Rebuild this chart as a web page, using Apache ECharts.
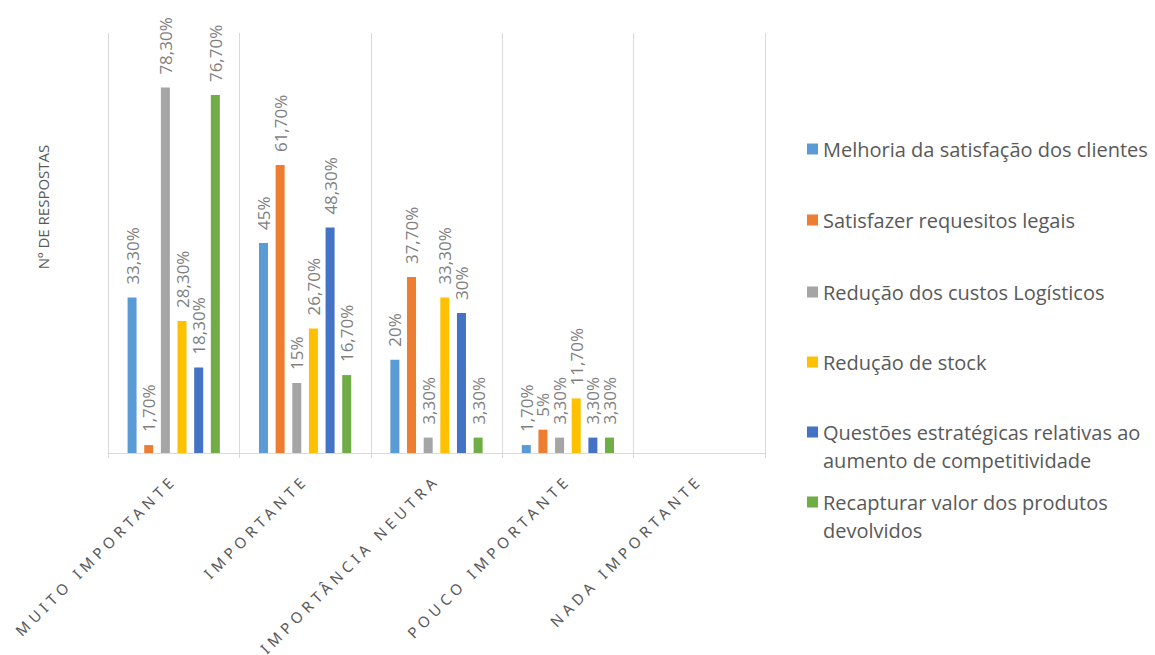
<!DOCTYPE html>
<html>
<head>
<meta charset="utf-8">
<script src="https://cdn.jsdelivr.net/npm/echarts@6/dist/echarts.min.js"></script>
<style>
  html, body { margin: 0; padding: 0; background: #fff; }
  #chart { width: 1155px; height: 655px; }
  /* Excel-style spaced category labels (only the x-axis labels use Noto Sans) */
  #chart text[style*="Noto Sans"] { letter-spacing: 4.6px; }
</style>
</head>
<body>
<div id="chart"></div>
<script>
const categories = ['MUITO IMPORTANTE', 'IMPORTANTE', 'IMPORTÂNCIA NEUTRA', 'POUCO IMPORTANTE', 'NADA IMPORTANTE'];
const seriesNames = [
  'Melhoria da satisfação dos clientes',
  'Satisfazer requesitos legais',
  'Redução dos custos Logísticos',
  'Redução de stock',
  'Questões estratégicas relativas ao aumento de competitividade',
  'Recapturar valor dos produtos devolvidos'
];
const legendLabels = [
  'Melhoria da satisfação dos clientes',
  'Satisfazer requesitos legais',
  'Redução dos custos Logísticos',
  'Redução de stock',
  'Questões estratégicas relativas ao\naumento de competitividade',
  'Recapturar valor dos produtos\ndevolvidos'
];
const melhoria     = [33.3, 45,   20,   1.7,  null];
const satisfazer   = [1.7,  61.7, 37.7, 5,    null];
const custos       = [78.3, 15,   3.3,  3.3,  null];
const stock        = [28.3, 26.7, 33.3, 11.7, null];
const estrategicas = [18.3, 48.3, 30,   3.3,  null];
const recapturar   = [76.7, 16.7, 3.3,  3.3,  null];
const yAxisTitle = 'Nº DE RESPOSTAS';

const seriesValues = [melhoria, satisfazer, custos, stock, estrategicas, recapturar];
const colors = ['#5B9BD5', '#ED7D31', '#A5A5A5', '#FFC000', '#4472C4', '#70AD47'];
const legendTops = [130, 201, 273, 343, 413, 483];

function fmt(v) {
  if (v == null) return '';
  return (Number.isInteger(v) ? String(v) : v.toFixed(2).replace('.', ',')) + '%';
}

const chart = echarts.init(document.getElementById('chart'), null, { renderer: 'svg' });

const series = seriesValues.map((vals, i) => ({
  name: seriesNames[i],
  type: 'bar',
  data: vals,
  barWidth: 9,
  barGap: '85%',
  itemStyle: { color: colors[i] },
  label: {
    show: true,
    position: 'top',
    rotate: 90,
    align: 'left',
    verticalAlign: 'middle',
    distance: 13,
    color: '#7f7f7f',
    fontFamily: 'Open Sans',
    fontSize: 17,
    formatter: p => fmt(p.value)
  },
  emphasis: { disabled: true }
}));

const legends = seriesNames.map((n, i) => {
  const twoLines = legendLabels[i].indexOf('\n') >= 0;
  return {
    data: [n],
    orient: 'vertical',
    left: 802,
    top: legendTops[i],
    // two-line entries: square marker aligned with the first text line
    icon: twoLines ? 'path://M0,0h11v11h-11zM0,39h11' : 'rect',
    itemWidth: 11,
    itemHeight: twoLines ? 39 : 11,
    selectedMode: false,
    formatter: () => legendLabels[i],
    textStyle: {
      color: '#595959',
      fontFamily: 'Open Sans',
      fontSize: 20,
      lineHeight: 28
    }
  };
});

chart.setOption({
  animation: false,
  color: colors,
  grid: { left: 108, right: 390, top: 33, bottom: 202 },
  legend: legends,
  xAxis: {
    type: 'category',
    data: categories,
    boundaryGap: true,
    axisLine: { show: true, lineStyle: { color: '#d9d9d9', width: 1 } },
    axisTick: { show: true, length: 5, lineStyle: { color: '#d9d9d9' } },
    splitLine: { show: true, lineStyle: { color: '#d9d9d9', width: 1 } },
    axisLabel: {
      rotate: 45,
      margin: 24,
      interval: 0,
      color: '#595959',
      fontFamily: 'Noto Sans',
      fontSize: 15
    }
  },
  yAxis: {
    type: 'value',
    min: 0,
    max: 90,
    name: yAxisTitle,
    nameLocation: 'middle',
    nameGap: 58,
    nameRotate: 90,
    nameTextStyle: {
      color: '#595959',
      fontFamily: 'Open Sans',
      fontSize: 15,
      padding: [0, 0, 0, 72]
    },
    axisLine: { show: false },
    axisTick: { show: false },
    axisLabel: { show: false },
    splitLine: { show: false }
  },
  series: series
});
</script>
</body>
</html>
